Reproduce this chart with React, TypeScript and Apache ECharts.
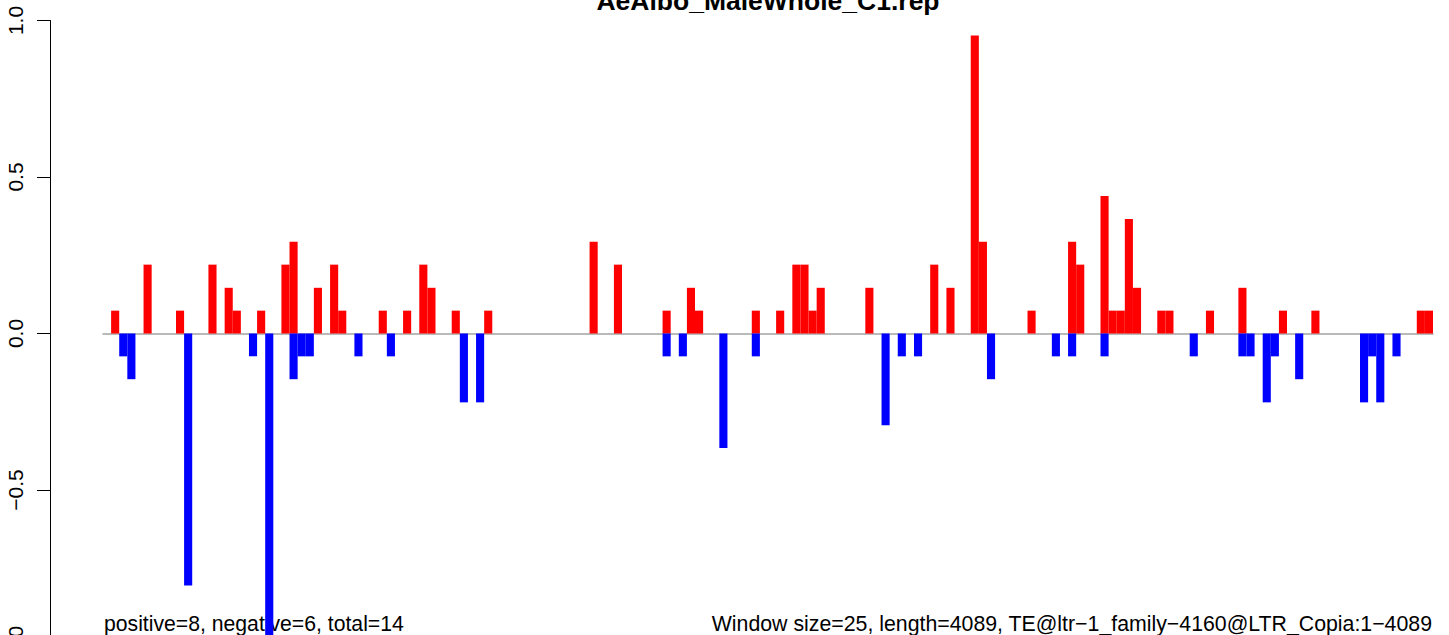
import React, { useEffect, useRef } from "react";
import * as echarts from "echarts";

const TITLE = "AeAlbo_MaleWhole_C1.rep";
const LEFT_NOTE = "positive=8, negative=6, total=14";
const RIGHT_NOTE = "Window size=25, length=4089, TE@ltr\u22121_family\u22124160@LTR_Copia:1\u22124089";

// one category per 25-bp window (index 0 is the empty leading slot)
const WINDOWS: string[] = Array.from({ length: 164 }, (_, i) => String(i));

const POSITIVE: number[] = [
  0, 0.073, 0, 0, 0, 0.22, 0, 0, 0, 0.073,
  0, 0, 0, 0.22, 0, 0.146, 0.073, 0, 0, 0.073,
  0, 0, 0.22, 0.293, 0, 0, 0.146, 0, 0.22, 0.073,
  0, 0, 0, 0, 0.073, 0, 0, 0.073, 0, 0.22,
  0.146, 0, 0, 0.073, 0, 0, 0, 0.073, 0, 0,
  0, 0, 0, 0, 0, 0, 0, 0, 0, 0,
  0.293, 0, 0, 0.22, 0, 0, 0, 0, 0, 0.073,
  0, 0, 0.146, 0.073, 0, 0, 0, 0, 0, 0,
  0.073, 0, 0, 0.073, 0, 0.22, 0.22, 0.073, 0.146, 0,
  0, 0, 0, 0, 0.146, 0, 0, 0, 0, 0,
  0, 0, 0.22, 0, 0.146, 0, 0, 0.952, 0.293, 0,
  0, 0, 0, 0, 0.073, 0, 0, 0, 0, 0.293,
  0.22, 0, 0, 0.439, 0.073, 0.073, 0.366, 0.146, 0, 0,
  0.073, 0.073, 0, 0, 0, 0, 0.073, 0, 0, 0,
  0.146, 0, 0, 0, 0, 0.073, 0, 0, 0, 0.073,
  0, 0, 0, 0, 0, 0, 0, 0, 0, 0,
  0, 0, 0.073, 0.073,
];

const NEGATIVE: number[] = [
  0, 0, -0.073, -0.146, 0, 0, 0, 0, 0, 0,
  -0.805, 0, 0, 0, 0, 0, 0, 0, -0.073, 0,
  -1.025, 0, 0, -0.146, -0.073, -0.073, 0, 0, 0, 0,
  0, -0.073, 0, 0, 0, -0.073, 0, 0, 0, 0,
  0, 0, 0, 0, -0.22, 0, -0.22, 0, 0, 0,
  0, 0, 0, 0, 0, 0, 0, 0, 0, 0,
  0, 0, 0, 0, 0, 0, 0, 0, 0, -0.073,
  0, -0.073, 0, 0, 0, 0, -0.366, 0, 0, 0,
  -0.073, 0, 0, 0, 0, 0, 0, 0, 0, 0,
  0, 0, 0, 0, 0, 0, -0.293, 0, -0.073, 0,
  -0.073, 0, 0, 0, 0, 0, 0, 0, 0, -0.146,
  0, 0, 0, 0, 0, 0, 0, -0.073, 0, -0.073,
  0, 0, 0, -0.073, 0, 0, 0, 0, 0, 0,
  0, 0, 0, 0, -0.073, 0, 0, 0, 0, 0,
  -0.073, -0.073, 0, -0.22, -0.073, 0, 0, -0.146, 0, 0,
  0, 0, 0, 0, 0, -0.22, -0.073, -0.22, 0, -0.073,
  0, 0, 0, 0,
];

const Y_MIN = -1;
const Y_MAX = 1;
const Y_STEP = 0.5;

const FONT = "'Liberation Sans', Arial, Helvetica, sans-serif";

export default function App() {
  const ref = useRef<HTMLDivElement | null>(null);

  useEffect(() => {
    if (!ref.current) return;
    const chart = echarts.init(ref.current, null, { renderer: "svg" });
    const blankZero = (v: number) => (v === 0 ? "-" : v);
    chart.setOption({
      animation: false,
      backgroundColor: "#ffffff",
      textStyle: { fontFamily: FONT },
      grid: {
        left: 103,
        right: 16,
        top: 20.5,
        bottom: -11.5,
        containLabel: false,
        outerBoundsMode: "none",
      },
      xAxis: {
        type: "category",
        data: WINDOWS,
        boundaryGap: true,
        axisLine: { show: true, onZero: true, lineStyle: { color: "#a3a3a3", width: 1.5 } },
        axisTick: { show: false },
        axisLabel: { show: false },
        splitLine: { show: false },
      },
      yAxis: {
        type: "value",
        min: Y_MIN,
        max: Y_MAX,
        interval: Y_STEP,
        position: "left",
        offset: 53,
        axisLine: { show: true, lineStyle: { color: "#000000", width: 1 } },
        axisTick: { show: true, inside: false, length: 13, lineStyle: { color: "#000000", width: 1 } },
        splitLine: { show: false },
        axisLabel: {
          rotate: 90,
          margin: 24,
          color: "#000000",
          fontSize: 21,
          fontFamily: FONT,
          formatter: (v: number) => (v < 0 ? "\u2212" : "") + Math.abs(v).toFixed(1),
        },
      },
      series: [
        {
          type: "bar",
          name: "positive",
          data: POSITIVE.map(blankZero),
          barWidth: "100%",
          barGap: "-100%",
          barCategoryGap: 0,
          itemStyle: { color: "#ff0000" },
          z: 3,
        },
        {
          type: "bar",
          name: "negative",
          data: NEGATIVE.map(blankZero),
          barWidth: "100%",
          barGap: "-100%",
          barCategoryGap: 0,
          itemStyle: { color: "#0000ff" },
          z: 3,
        },
      ],
      graphic: [
        {
          type: "text",
          x: 768,
          y: 1,
          style: {
            text: TITLE,
            fill: "#000000",
            font: `bold 26.5px ${FONT}`,
            textAlign: "center",
            textVerticalAlign: "middle",
          },
        },
        {
          type: "text",
          x: 104,
          y: 623.5,
          style: {
            text: LEFT_NOTE,
            fill: "#000000",
            font: `21.2px ${FONT}`,
            textAlign: "left",
            textVerticalAlign: "middle",
          },
        },
        {
          type: "text",
          x: 1432,
          y: 623.5,
          style: {
            text: RIGHT_NOTE,
            fill: "#000000",
            font: `21.3px ${FONT}`,
            textAlign: "right",
            textVerticalAlign: "middle",
          },
        },
      ],
    });
    return () => chart.dispose();
  }, []);

  return (
    <div
      ref={ref}
      style={{ position: "fixed", left: 0, top: 0, width: 1449, height: 635, background: "#fff" }}
    />
  );
}
